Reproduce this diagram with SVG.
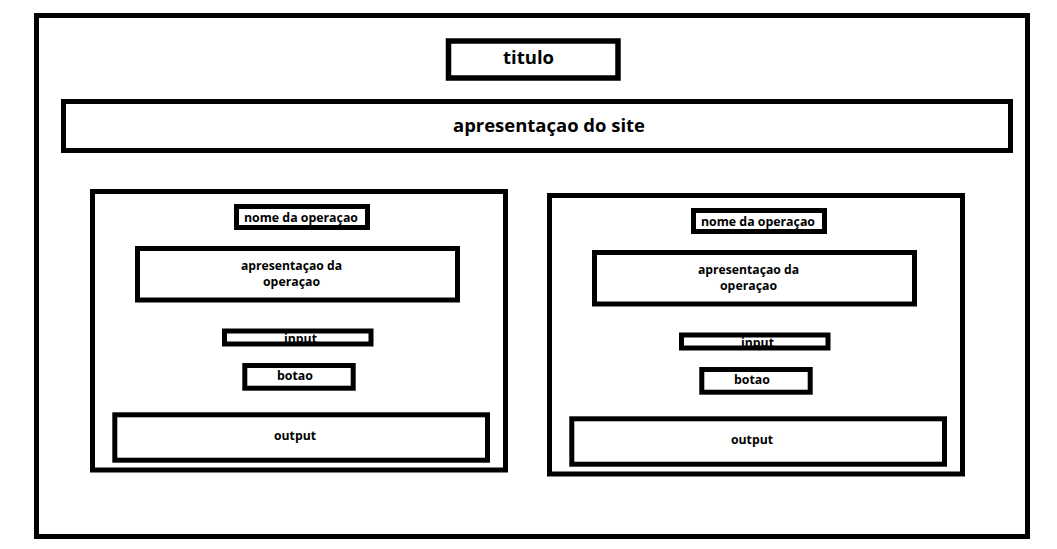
<svg xmlns="http://www.w3.org/2000/svg" width="1057" height="549" viewBox="0 0 1057 549">
<style>
.box{fill:none;stroke:#000;stroke-width:5}
.t{font-family:"Open Sans","Noto Sans",sans-serif;font-weight:bold;fill:#000;text-anchor:middle}
.big{font-size:18.5px}
.sm{font-size:13px}
</style>
<rect x="0" y="0" width="1057" height="549" fill="#fff"/>
<g id="page">
<rect class="box" x="36.5" y="15.5" width="991" height="521"/>
</g>
<g id="titulo">
<rect class="box" x="448.5" y="41" width="169.5" height="37" style="stroke-width:5.5"/>
<text class="t big" x="528.5" y="64" textLength="51" lengthAdjust="spacingAndGlyphs">titulo</text>
</g>
<g id="apresentacao-site">
<rect class="box" x="63.5" y="101.5" width="947" height="49"/>
<text class="t big" x="549" y="132" textLength="192" lengthAdjust="spacingAndGlyphs">apresentaçao do site</text>
</g>
<g id="operacao-1">
<rect class="box" x="92.5" y="191.5" width="413" height="278.5"/>
<g id="nome-1">
<rect class="box" x="236.5" y="206.5" width="131" height="21"/>
<text class="t sm" x="301" y="222" textLength="114" lengthAdjust="spacingAndGlyphs">nome da operaçao</text>
</g>
<g id="apresentacao-1">
<rect class="box" x="137.5" y="248.5" width="320" height="51.5"/>
<text class="t sm" x="291.5" y="269.5" textLength="101" lengthAdjust="spacingAndGlyphs">apresentaçao da</text>
<text class="t sm" x="291.5" y="285.5" textLength="57" lengthAdjust="spacingAndGlyphs">operaçao</text>
</g>
<g id="input-1">
<text class="t sm" x="300.5" y="342.5" textLength="33" lengthAdjust="spacingAndGlyphs">input</text>
<rect class="box" x="224.5" y="331" width="146.5" height="13"/>
</g>
<g id="botao-1">
<rect class="box" x="244.8" y="365.5" width="108.4" height="22.7"/>
<text class="t sm" x="295" y="379.5" textLength="36" lengthAdjust="spacingAndGlyphs">botao</text>
</g>
<g id="output-1">
<rect class="box" x="114.8" y="414.8" width="372.7" height="45.4"/>
<text class="t sm" x="295" y="439.5" textLength="42" lengthAdjust="spacingAndGlyphs">output</text>
</g>
</g>
<g id="operacao-2" transform="translate(457 4)">
<rect class="box" x="92.5" y="191.5" width="413" height="278.5"/>
<g id="nome-2">
<rect class="box" x="236.5" y="206.5" width="131" height="21"/>
<text class="t sm" x="301" y="222" textLength="114" lengthAdjust="spacingAndGlyphs">nome da operaçao</text>
</g>
<g id="apresentacao-2">
<rect class="box" x="137.5" y="248.5" width="320" height="51.5"/>
<text class="t sm" x="291.5" y="269.5" textLength="101" lengthAdjust="spacingAndGlyphs">apresentaçao da</text>
<text class="t sm" x="291.5" y="285.5" textLength="57" lengthAdjust="spacingAndGlyphs">operaçao</text>
</g>
<g id="input-2">
<text class="t sm" x="300.5" y="342.5" textLength="33" lengthAdjust="spacingAndGlyphs">input</text>
<rect class="box" x="224.5" y="331" width="146.5" height="13"/>
</g>
<g id="botao-2">
<rect class="box" x="244.8" y="365.5" width="108.4" height="22.7"/>
<text class="t sm" x="295" y="379.5" textLength="36" lengthAdjust="spacingAndGlyphs">botao</text>
</g>
<g id="output-2">
<rect class="box" x="114.8" y="414.8" width="372.7" height="45.4"/>
<text class="t sm" x="295" y="439.5" textLength="42" lengthAdjust="spacingAndGlyphs">output</text>
</g>
</g>
<g id="connectors"/>
</svg>
